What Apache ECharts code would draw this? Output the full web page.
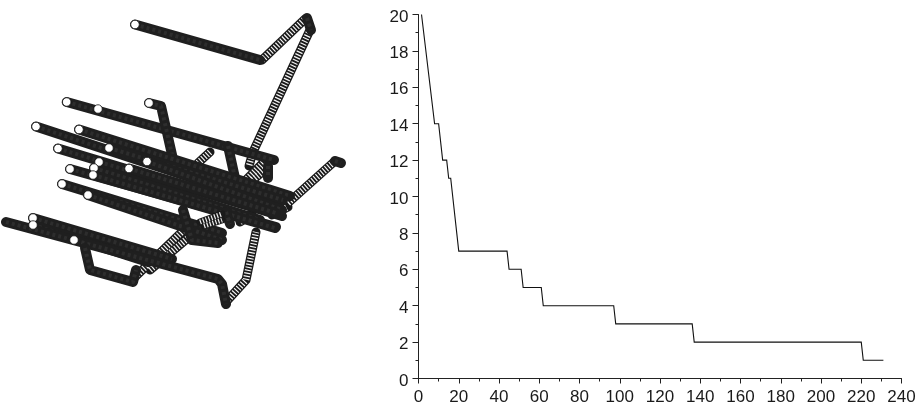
<!DOCTYPE html>
<html><head><meta charset="utf-8">
<style>html,body{margin:0;padding:0;background:#fff}#c{width:922px;height:407px}</style>
<script src="https://cdn.jsdelivr.net/npm/echarts@6/dist/echarts.min.js"></script>
</head><body><div id="c"></div>
<script>
const stepCurve = [[1.5,20],[2,20],[8,14],[10,14],[12,12],[14,12],[15,11],[16,11],[20,7],[44,7],[45,6],[51,6],[52,5],[61,5],[62,4],[97,4],[98,3],[136,3],[137,2],[220,2],[221,1],[231,1]];
const coilPaths = [
  [[262,60],[305,19]],
  [[310,30],[253,152],[249,166]],
  [[288,203],[335,161]],
  [[243,183],[266,160]],
  [[248,184],[268,167]],
  [[198,163],[210,152]],
  [[226,302],[246,280],[256,232]],
  [[135,277],[186,228]],
  [[150,270],[195,232]],
  [[240,222],[252,214]],
  [[272,215],[288,207]]
];
const blackPaths = [
  [[135,24.5],[260,60]],
  [[307,18],[311,30]],
  [[335,161],[341,163]],
  [[66.7,102],[274,160]],
  [[149,103],[161,106],[175,168]],
  [[228,146],[235,178]],
  [[268,166],[268,178]],
  [[36,126.5],[278,206]],
  [[79,129.5],[290,196]],
  [[109,148],[283,200]],
  [[58,148.5],[282,216]],
  [[99,162],[278,214]],
  [[147,161.5],[282,210]],
  [[129,168.5],[276,213]],
  [[70,169],[276,227]],
  [[94,168],[260,220]],
  [[93,175],[275,228]],
  [[62,184],[222,233]],
  [[88,195],[222,240]],
  [[183,210],[192,240],[218,243]],
  [[226,212],[230,224]],
  [[33,218],[172,259]],
  [[33,225],[148,262]],
  [[6,222],[218,279],[222,284],[226,304]],
  [[85,248],[90,270],[133,282],[136,270]]
];
const topCoilPaths = [
  [[200,222],[222,214]],
  [[204,226],[222,220]]
];
const startPoints = [[135,24.5],[66.7,102],[98,109],[149,103],[36,126.5],[79,129.5],[109,148],[58,148.5],[99,162],[147,161.5],[129,168.5],[70,169],[94,168],[93,175],[62,184],[88,195],[33,218],[33,225],[74,240]];
const xTickLabels = [0,20,40,60,80,100,120,140,160,180,200,220,240];
const yTickLabels = [0,2,4,6,8,10,12,14,16,18,20];

const series = [];
function tube(d, color, w, z, dash, cap) {
  series.push({type:'line',xAxisIndex:0,yAxisIndex:0,data:d,symbol:'none',silent:true,z:z,animation:false,
    lineStyle:{color:color,width:w,type:dash||'solid',cap:cap||'round',join:'round'}});
}
coilPaths.forEach(p=>{ tube(p,'#1a1a1a',9,2); tube(p,'#f4f4f4',6.5,3,[1.2,1.8],'butt'); });
blackPaths.forEach((p,i)=>{ tube(p,'#1f1f1f',10,4+i*0.01); tube(p,'#2d2d2d',4,4.005+i*0.01,[3,3],'butt'); });
topCoilPaths.forEach(p=>{ tube(p,'#1a1a1a',7,5); tube(p,'#f0f0f0',5,5.1,[1.2,1.8],'butt'); });
series.push({type:'scatter',xAxisIndex:0,yAxisIndex:0,data:startPoints,symbol:'circle',symbolSize:8.5,silent:true,z:6,animation:false,
  itemStyle:{color:'#fff',borderColor:'#111',borderWidth:0.8,opacity:1}});
series.push({type:'line',xAxisIndex:1,yAxisIndex:1,data:stepCurve,symbol:'none',silent:true,animation:false,
  lineStyle:{color:'#111',width:1.1,join:'miter'}});

const axisText = {color:'#1a1a1a',fontFamily:'Liberation Sans',fontSize:17};
const lineCol = {color:'#222',width:1};
const chart = echarts.init(document.getElementById('c'),null,{renderer:'canvas'});
chart.setOption({
  backgroundColor:'#fff',animation:false,
  grid:[{left:0,top:0,width:350,height:407},{left:418.5,top:14.5,width:483,height:364}],
  xAxis:[
    {gridIndex:0,type:'value',min:0,max:350,show:false},
    {gridIndex:1,type:'value',min:0,max:240,interval:20,
     axisLine:{show:true,onZero:false,lineStyle:lineCol},splitLine:{show:false},
     axisTick:{show:true,length:5,inside:false,lineStyle:lineCol},
     minorTick:{show:true,splitNumber:2,length:3,lineStyle:lineCol},minorSplitLine:{show:false},
     axisLabel:Object.assign({margin:10,showMinLabel:true,showMaxLabel:true,formatter:v=>xTickLabels.includes(v)?String(v):''},axisText)}
  ],
  yAxis:[
    {gridIndex:0,type:'value',min:0,max:407,inverse:true,show:false},
    {gridIndex:1,type:'value',min:0,max:20,interval:2,
     axisLine:{show:true,onZero:false,lineStyle:lineCol},splitLine:{show:false},
     axisTick:{show:true,length:6,inside:false,lineStyle:lineCol},
     minorTick:{show:true,splitNumber:2,length:3,lineStyle:lineCol},minorSplitLine:{show:false},
     axisLabel:Object.assign({margin:10,verticalAlign:'top',padding:[-6,0,0,0],showMinLabel:true,showMaxLabel:true,formatter:v=>yTickLabels.includes(v)?String(v):''},axisText)}
  ],
  series:series
});
</script></body></html>
